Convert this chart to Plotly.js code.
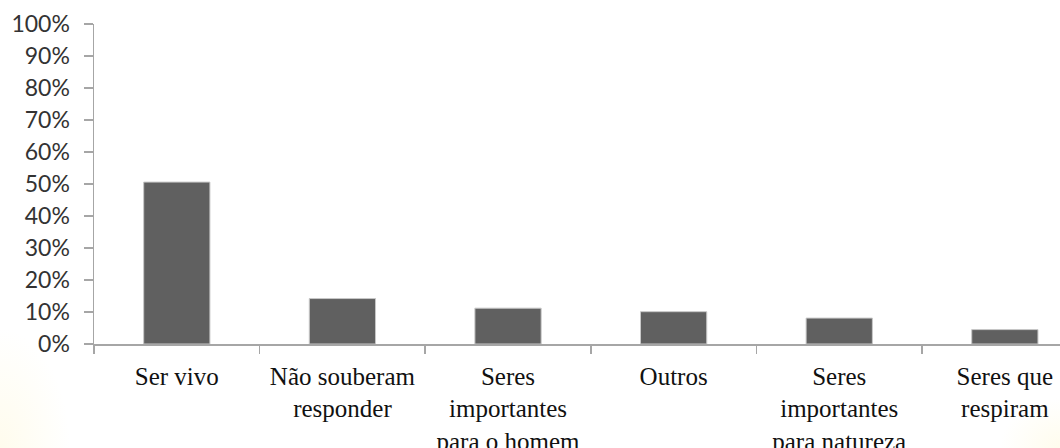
<!DOCTYPE html>
<html>
<head>
<meta charset="utf-8">
<script src="https://cdn.plot.ly/plotly-3.0.1.min.js"></script>
<style>
  html, body { margin: 0; padding: 0; }
  body {
    width: 1060px; height: 448px; overflow: hidden;
    background:
      radial-gradient(ellipse 70px 120px at 0px 448px, rgba(255, 248, 215, 0.45), rgba(255, 255, 255, 0) 100%),
      radial-gradient(ellipse 60px 50px at 1060px 448px, rgba(255, 248, 215, 0.45), rgba(255, 255, 255, 0) 100%),
      #ffffff;
  }
  #chart { width: 1060px; height: 448px; }
</style>
</head>
<body>
<div id="chart"></div>
<script>
// Answer categories (x axis) and share of responses in percent
const categories = [
  "Ser vivo",
  "Não souberam<br>responder",
  "Seres<br>importantes<br>para o homem",
  "Outros",
  "Seres<br>importantes<br>para natureza",
  "Seres que<br>respiram"
];
const percentages = [50.6, 14.2, 11.2, 10.1, 8.1, 4.5];
const yTicks = [0, 10, 20, 30, 40, 50, 60, 70, 80, 90, 100];

const trace = {
  type: "bar",
  x: categories,
  y: percentages,
  marker: { color: "#606060", line: { color: "#c8c8c8", width: 1 } },
  hoverinfo: "x+y"
};

const layout = {
  width: 1060,
  height: 448,
  margin: { l: 94, r: 0, t: 24, b: 104, pad: 0 },
  paper_bgcolor: "rgba(0,0,0,0)",
  plot_bgcolor: "rgba(0,0,0,0)",
  font: { family: "Lato" },
  showlegend: false,
  bargap: 0.6,
  xaxis: {
    type: "category",
    range: [-0.5, 5.333],
    showline: true,
    linecolor: "#a6a6a6",
    linewidth: 1.5,
    ticks: "outside",
    tickson: "boundaries",
    ticklen: 8,
    tickwidth: 1.5,
    tickcolor: "#a6a6a6",
    ticklabelstandoff: 9,
    showgrid: false,
    zeroline: false,
    tickfont: { family: "Liberation Serif", size: 25, color: "#111111" }
  },
  yaxis: {
    range: [0, 100],
    tickmode: "array",
    tickvals: yTicks,
    ticktext: yTicks.map(v => v + "%"),
    showline: true,
    linecolor: "#a6a6a6",
    linewidth: 1.5,
    ticks: "outside",
    ticklen: 9,
    tickwidth: 1.5,
    tickcolor: "#a6a6a6",
    ticklabelstandoff: 9,
    showgrid: false,
    zeroline: false,
    tickfont: { family: "Lato", size: 23, color: "#333333" }
  }
};

Plotly.newPlot("chart", [trace], layout, { displayModeBar: false, staticPlot: true });
</script>
</body>
</html>
